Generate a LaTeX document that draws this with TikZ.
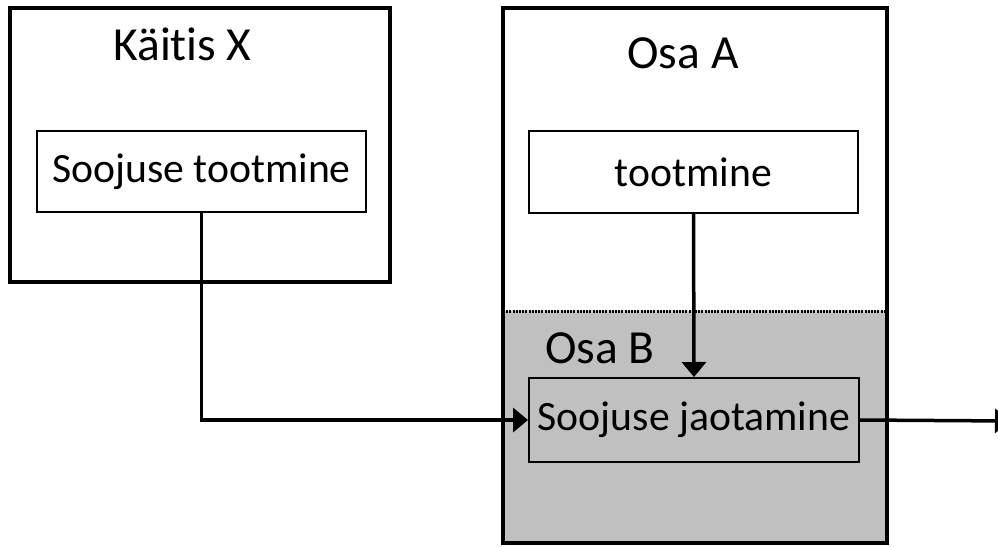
\documentclass[tikz,border=0pt]{standalone}
\usepackage{fontspec}
\setmainfont{Carlito}[Ligatures=CommonOff]
\usetikzlibrary{arrows.meta}
\begin{document}
\begin{tikzpicture}[x=1pt,y=-1pt,
  outerbox/.style={draw, line width=3.5pt, inner sep=0pt},
  innerbox/.style={draw, line width=2pt, inner sep=0pt, font=\fontsize{41.7}{48}\selectfont},
  title/.style={inner sep=0pt, anchor=base, font=\fontsize{47.5}{54}\selectfont},
  conn/.style={line width=3.5pt, -{Triangle[length=15pt,width=24pt]}}
]
\useasboundingbox (0,0) rectangle (998,546);
% gray lower part
\fill[fill={rgb,255:red,192;green,192;blue,192}] (503,311) rectangle (887,543);
\draw[line width=3pt, dash pattern=on 2pt off 1.2pt] (503,311) -- (887,311);
% outer boxes
\node[outerbox, minimum width=380pt, minimum height=274pt] (kaitis) at (200,145) {};
\node[outerbox, minimum width=384pt, minimum height=535pt] (osa) at (695,275.5) {};
% titles
\node[title] (tk) at (182.5,60) {Käitis X};
\node[title] (ta) at (683,68) {Osa A};
\node[title, anchor=base west] (tb) at (545,363) {Osa B};
% inner boxes
\node[innerbox, fill=white, minimum width=329pt, minimum height=81pt] (st) at (201.5,171.5) {Soojuse tootmine};
\node[innerbox, fill=white, minimum width=329pt, minimum height=82pt] (tm) at (693.5,172) {tootmine};
\node[innerbox, minimum width=330pt, minimum height=84pt] (sj) at (694,420) {Soojuse jaotamine};
% connectors
\coordinate (out) at (1010,421);
\draw[conn] (st.south) |- (sj.west);
\draw[conn] (tm.south) -- (sj.north);
\draw[conn] (sj.east) -- (out);
\end{tikzpicture}
\end{document}
